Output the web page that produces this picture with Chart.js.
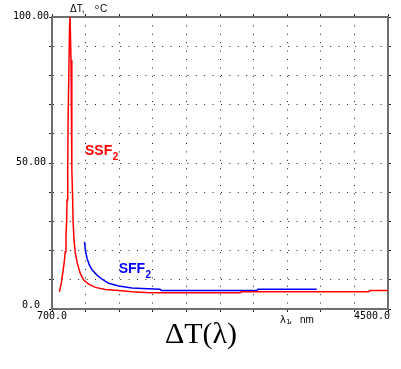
<!DOCTYPE html>
<html>
<head>
<meta charset="utf-8">
<style>
  html, body { margin: 0; padding: 0; background: #ffffff; }
  #wrap { width: 401px; height: 369px; position: relative; }
</style>
<script src="https://cdn.jsdelivr.net/npm/chart.js@4/dist/chart.umd.min.js"></script>
</head>
<body>
<div id="wrap"><canvas id="c" width="401" height="369"></canvas></div>
<script>
// Temperature difference ΔT (°C) versus wavelength λ1 (nm)
const ssfLambda = [783, 805, 824, 839, 850, 858, 866, 870, 878, 881, 898, 904,
                   911, 915, 923, 926, 932, 938, 949, 964, 986, 1020, 1059, 1115,
                   1190, 1303, 1454, 1605, 1808, 2826, 2845, 4277, 4297, 4500];
const ssfDeltaT  = [5.9, 8.8, 12.8, 16.2, 19.6, 24.8, 30.5, 37.3, 47.6, 62.3, 95.5, 100,
                   100, 85.3, 65.8, 47.6, 39.7, 30.5, 23.6, 19.1, 15.7, 12.2, 9.9, 8.5,
                   7.4, 6.7, 6.3, 5.9, 5.6, 5.6, 5.9, 5.9, 6.3, 6.3];

const sffLambda = [1068, 1077, 1096, 1122, 1152, 1209, 1266, 1341, 1454, 1605, 1718,
                   1921, 1941, 3015, 3030, 3694];
const sffDeltaT  = [23.0, 20.2, 17.4, 15.1, 13.4, 11.6, 10.2, 8.8, 7.9, 7.2, 7.0,
                   6.75, 6.3, 6.3, 6.75, 6.75];

const xTickValues = [700, 4500];
const xTickLabels = ['700.0', '4500.0'];
const yTickValues = [0, 50, 100];
const yTickLabels = ['0.0', '50.00', '100.00'];

const seriesNames = ['SSF', 'SFF'];
const seriesSub = ['2', '2'];
const seriesColors = ['#ff0000', '#0000ff'];

const toPoints = (xs, ys) => xs.map((x, i) => ({ x: x, y: ys[i] }));

const AXIS_GREY = '#6e6e6e';
const DOT = '#222222';

function frameScale(pos, axisId) {
  return {
    type: 'linear',
    position: pos,
    min: axisId === 'x' ? 700 : 0,
    max: axisId === 'x' ? 4500 : 100,
    ticks: { display: false, stepSize: axisId === 'x' ? 380 : 10 },
    grid: { drawOnChartArea: false, drawTicks: true, tickLength: 3, tickColor: DOT, tickWidth: 1 },
    border: { display: true, color: AXIS_GREY, width: 2 }
  };
}

const textPlugin = {
  id: 'chartText',
  afterDraw(chart) {
    const ctx = chart.ctx;
    const xs = chart.scales.x, ys = chart.scales.y;
    const area = chart.chartArea;
    ctx.save();
    ctx.fillStyle = '#000';

    // value labels on the axes
    ctx.font = '10px "DejaVu Sans Mono", monospace';
    ctx.textBaseline = 'middle';
    ctx.textAlign = 'center';
    yTickValues.forEach((v, i) => {
      const py = Math.min(ys.getPixelForValue(v) - 1, area.bottom - 4);
      ctx.fillText(yTickLabels[i], 31, py);
    });
    xTickValues.forEach((v, i) => {
      const px = xs.getPixelForValue(v);
      if (i === xTickValues.length - 1) {
        ctx.textAlign = 'right';
        ctx.fillText(xTickLabels[i], px + 2, area.bottom + 7);
      } else {
        ctx.textAlign = 'center';
        ctx.fillText(xTickLabels[i], px, area.bottom + 7);
      }
    });

    // axis names
    ctx.textAlign = 'left';
    ctx.font = '10px "Liberation Sans", Arial, sans-serif';
    ctx.fillText('ΔT,', area.left + 18, area.top - 8);
    ctx.font = '7px "Liberation Sans", Arial, sans-serif';
    ctx.fillText('o', area.left + 43, area.top - 10);
    ctx.font = '10px "Liberation Sans", Arial, sans-serif';
    ctx.fillText('C', area.left + 48, area.top - 8);

    const ly = area.bottom + 11;
    ctx.font = '10px "DejaVu Sans", sans-serif';
    ctx.fillText('λ', 280, ly);
    ctx.font = '7px "DejaVu Sans", sans-serif';
    ctx.fillText('1', 286, ly + 2);
    ctx.font = '10px "DejaVu Sans", sans-serif';
    ctx.fillText(',', 289, ly);
    ctx.font = '10px "Liberation Sans", Arial, sans-serif';
    ctx.fillText('nm', 300, ly);

    // series names
    const anchors = [[1073, 52.6], [1454, 12.3]];
    ctx.textBaseline = 'alphabetic';
    seriesNames.forEach((name, i) => {
      const px = xs.getPixelForValue(anchors[i][0]);
      const py = ys.getPixelForValue(anchors[i][1]);
      ctx.fillStyle = seriesColors[i];
      ctx.font = 'bold 14px "Liberation Sans", Arial, sans-serif';
      ctx.fillText(name, px, py);
      const w = ctx.measureText(name).width;
      ctx.font = 'bold 10px "Liberation Sans", Arial, sans-serif';
      ctx.fillText(seriesSub[i], px + w + 0.5, py + 4.5);
    });

    // caption
    ctx.fillStyle = '#000';
    ctx.textAlign = 'center';
    ctx.font = '30px "Liberation Serif", "Times New Roman", serif';
    ctx.fillText('ΔT(λ)', 201, 343);
    ctx.restore();
  }
};

new Chart(document.getElementById('c'), {
  type: 'line',
  data: {
    datasets: [
      {
        label: 'SSF2',
        data: toPoints(ssfLambda, ssfDeltaT),
        borderColor: seriesColors[0],
        borderWidth: 1.5,
        pointRadius: 0,
        tension: 0,
        fill: false
      },
      {
        label: 'SFF2',
        data: toPoints(sffLambda, sffDeltaT),
        borderColor: seriesColors[1],
        borderWidth: 1.5,
        pointRadius: 0,
        tension: 0,
        fill: false
      }
    ]
  },
  options: {
    responsive: false,
    devicePixelRatio: 1,
    animation: false,
    parsing: true,
    layout: { padding: { left: 49, top: 14, right: 10, bottom: 57 } },
    plugins: {
      legend: { display: false },
      title: { display: false },
      tooltip: { enabled: false }
    },
    scales: {
      x: {
        type: 'linear',
        position: 'bottom',
        min: 700,
        max: 4500,
        ticks: { display: false, stepSize: 380 },
        grid: { color: DOT, lineWidth: 1, drawTicks: true, tickLength: 3,
                tickColor: DOT, tickWidth: 1, tickBorderDash: [] },
        border: { display: true, color: AXIS_GREY, width: 2, dash: [1, 7.4] }
      },
      y: {
        type: 'linear',
        position: 'left',
        min: 0,
        max: 100,
        ticks: { display: false, stepSize: 10 },
        grid: { color: DOT, lineWidth: 1, drawTicks: true, tickLength: 3,
                tickColor: DOT, tickWidth: 1, tickBorderDash: [] },
        border: { display: true, color: AXIS_GREY, width: 2, dash: [1, 7.4] }
      },
      xTop: frameScale('top', 'x'),
      yRight: frameScale('right', 'y')
    }
  },
  plugins: [textPlugin]
});
</script>
</body>
</html>
